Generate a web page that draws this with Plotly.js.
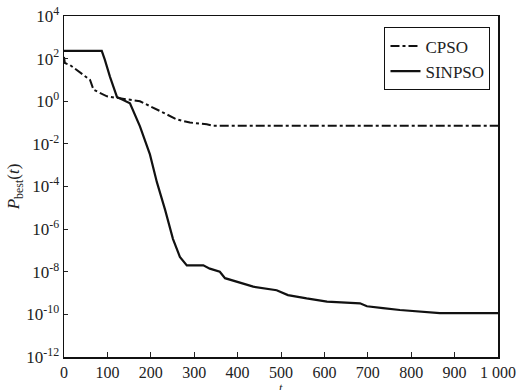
<!DOCTYPE html>
<html>
<head>
<meta charset="utf-8">
<script src="https://cdn.plot.ly/plotly-3.0.1.min.js"></script>
<style>html,body{margin:0;padding:0;background:#fff;}#chart{width:526px;height:390px;}</style>
</head>
<body>
<div id="chart"></div>
<script>
const cpsoT = [0, 2, 14, 37, 60, 68, 99, 121, 175, 221, 260, 290, 329, 344, 1000];
const cpsoY = [1.2e2, 6.2e1, 5e1, 2.2e1, 1e1, 3.5, 1.7, 1.45, 1.0, 0.35, 0.14, 0.1, 0.083, 0.07, 0.07];
const sinT = [0, 87, 94, 106, 122, 152, 175, 198, 214, 233, 251, 267, 283, 321, 336, 359, 371, 398, 436, 490, 516, 559, 606, 682, 698, 735, 774, 866, 1000];
const sinY = [2.3e2, 2.3e2, 9e1, 1.4e1, 1.6, 0.8, 0.066, 3.2e-3, 1.6e-4, 8e-6, 3.5e-7, 5e-8, 2e-8, 2e-8, 1.4e-8, 1e-8, 5e-9, 3.5e-9, 2e-9, 1.35e-9, 8e-10, 5.6e-10, 4e-10, 3.3e-10, 2.4e-10, 1.95e-10, 1.6e-10, 1.15e-10, 1.15e-10];
const xTickVals = [0, 100, 200, 300, 400, 500, 600, 700, 800, 900, 1000];
const xTickText = ['0', '100', '200', '300', '400', '500', '600', '700', '800', '900', '1 000'];
const yTickVals = [1e-12, 1e-10, 1e-8, 1e-6, 1e-4, 1e-2, 1e0, 1e2, 1e4];
const yTickText = ['10<sup>-12</sup>', '10<sup>-10</sup>', '10<sup>-8</sup>', '10<sup>-6</sup>', '10<sup>-4</sup>', '10<sup>-2</sup>', '10<sup>0</sup>', '10<sup>2</sup>', '10<sup>4</sup>'];

const serif = 'Liberation Serif, Times New Roman, serif';
const traces = [
  {x: cpsoT, y: cpsoY, name: 'CPSO', mode: 'lines', line: {color: '#111', width: 2, dash: 'dashdot'}},
  {x: sinT, y: sinY, name: 'SINPSO', mode: 'lines', line: {color: '#111', width: 2.2}}
];
const layout = {
  width: 526, height: 390,
  margin: {l: 64, r: 28, t: 16, b: 33},
  paper_bgcolor: '#fff', plot_bgcolor: '#fff',
  font: {family: serif, color: '#222', size: 17},
  showlegend: true,
  legend: {x: 0.738, y: 0.967, xanchor: 'left', yanchor: 'top', bgcolor: '#fff', bordercolor: '#111', borderwidth: 1.2, font: {family: serif, size: 17, color: '#222'}, tracegroupgap: 0},
  xaxis: {
    range: [0, 1000], tickvals: xTickVals, ticktext: xTickText,
    ticks: 'inside', ticklen: 5, tickcolor: '#222', showgrid: false, zeroline: false,
    showline: true, linecolor: '#111', linewidth: 1.5, mirror: true,
    tickfont: {family: serif, size: 16, color: '#222'}
  },
  yaxis: {
    type: 'log', range: [-12, 4], tickvals: yTickVals, ticktext: yTickText,
    ticks: 'inside', ticklen: 4, tickcolor: '#222', showgrid: false, zeroline: false,
    showline: true, linecolor: '#111', linewidth: 1.5, mirror: true,
    tickfont: {family: serif, size: 17, color: '#222'},
    title: {text: '<i>P</i><sub>best</sub>(<i>t</i>)', font: {family: serif, size: 17}, standoff: 2}
  },
  annotations: [
    {text: '<i>t</i>', xref: 'paper', yref: 'paper', x: 0.5, y: 0, xanchor: 'center', yanchor: 'top', yshift: -23, borderpad: 0, showarrow: false, font: {family: serif, size: 12, color: '#222'}}
  ]
};
Plotly.newPlot('chart', traces, layout, {displayModeBar: false, staticPlot: true});
</script>
</body>
</html>
